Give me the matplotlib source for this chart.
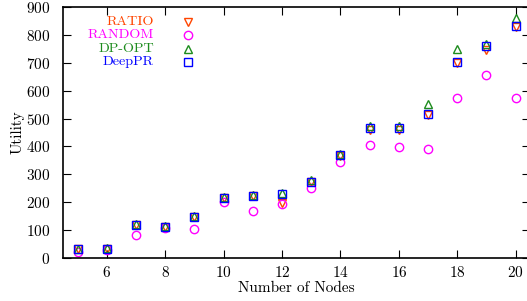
import matplotlib
matplotlib.use("Agg")
import matplotlib.pyplot as plt

plt.rcParams['font.family'] = ['cmr10', 'DejaVu Serif']
plt.rcParams['mathtext.fontset'] = 'cm'
plt.rcParams['axes.unicode_minus'] = False
plt.rcParams['axes.formatter.use_mathtext'] = True

nodes = [5, 6, 7, 8, 9, 10, 11, 12, 13, 14, 15, 16, 17, 18, 19, 20]
ratio = [31, 32, 117, 111, 146, 215, 221, 196, 273, 367, 460, 460, 512, 699, 746, 830]
random_ = [20, 28, 83, 108, 103, 199, 167, 192, 249, 345, 406, 399, 391, 575, 655, 575]
dp_opt = [33, 35, 120, 113, 149, 218, 226, 234, 278, 372, 473, 473, 552, 749, 767, 863]
deeppr = [31, 32, 117, 111, 146, 216, 223, 228, 273, 368, 465, 465, 515, 702, 762, 833]

labels = ['RATIO', 'RANDOM', 'DP-OPT', 'DeepPR']
series = [ratio, random_, dp_opt, deeppr]
markers = ['v', 'o', '^', 's']
colors = ['#ff4500', '#ff00ff', '#1e8c1e', '#0000ff']
msizes = [6.0, 6.0, 6.0, 5.5]

xticks = [6, 8, 10, 12, 14, 16, 18, 20]
yticks = [0, 100, 200, 300, 400, 500, 600, 700, 800, 900]

fig = plt.figure(figsize=(5.27, 3.01), dpi=100)
ax = fig.add_axes([63/527, 43.3/301, 467.3/527, 250.4/301])

for lab, vals, m, c, ms in zip(labels, series, markers, colors, msizes):
    ax.plot(nodes, vals, linestyle='none', marker=m, markersize=ms,
            markerfacecolor='none', markeredgecolor=c, markeredgewidth=1.0)

ax.set_xlim(4.5, 20.5)
ax.set_ylim(0, 900)
ax.set_xticks(xticks)
ax.set_yticks(yticks)
ax.tick_params(direction='in', length=6, width=0.8, top=True, right=True,
               labelsize=11)
ax.tick_params(axis='y', pad=9)
ax.tick_params(axis='x', pad=5.5)
for s in ax.spines.values():
    s.set_linewidth(1.2)

ax.set_xlabel('Number of Nodes', fontsize=11, labelpad=1)
ax.set_ylabel('Utility', fontsize=11, labelpad=1)

# legend
ys = [0.941, 0.889, 0.835, 0.782]
for lab, m, c, ms, yy in zip(labels, markers, colors, msizes, ys):
    ax.text(0.1947, yy, lab, transform=ax.transAxes, ha='right', va='center',
            color=c, fontsize=10.2)
    ax.plot([0.2675], [yy], transform=ax.transAxes, linestyle='none', marker=m,
            markersize=ms, markerfacecolor='none', markeredgecolor=c,
            markeredgewidth=1.0, clip_on=False)

fig.savefig('out.png', dpi=100)
